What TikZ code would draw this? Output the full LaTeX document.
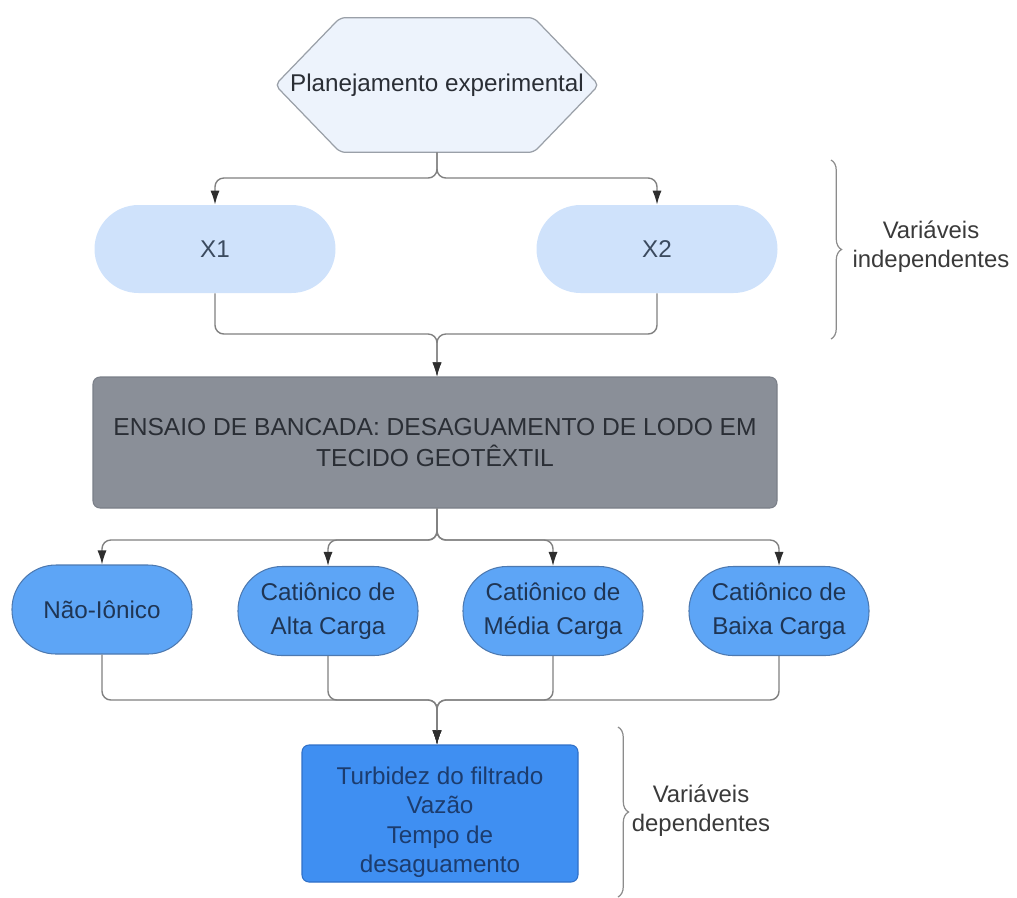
\documentclass[tikz,border=0pt]{standalone}
\usepackage{fontspec}
\setmainfont{Liberation Sans}
\usetikzlibrary{arrows.meta,decorations.pathreplacing,calc}
\definecolor{hexfill}{HTML}{EDF3FC}
\definecolor{hexline}{HTML}{9AA0A8}
\definecolor{xfill}{HTML}{CFE2FB}
\definecolor{xtext}{HTML}{3B4A5E}
\definecolor{grayfill}{HTML}{8A8F98}
\definecolor{grayline}{HTML}{7A7F88}
\definecolor{graytext}{HTML}{2A2E35}
\definecolor{bluefill}{HTML}{5DA5F6}
\definecolor{blueline}{HTML}{4D79B0}
\definecolor{bluetext}{HTML}{1F3554}
\definecolor{deepfill}{HTML}{3F8FF2}
\definecolor{deepline}{HTML}{2F70C8}
\definecolor{deeptext}{HTML}{1C3C6E}
\definecolor{connline}{HTML}{808080}
\definecolor{tipcol}{HTML}{2E2E2E}
\definecolor{bracecol}{HTML}{8C8C8C}
\definecolor{labeltext}{HTML}{3A3A3A}
\begin{document}
\begin{tikzpicture}[x=0.02cm,y=-0.02cm,
  every node/.style={font=\fontsize{13.8}{18}\selectfont, align=center, inner sep=0pt},
  hexbox/.style={minimum width=323*0.02cm, minimum height=134*0.02cm, text=graytext},
  xbox/.style={fill=xfill, rounded corners=0.88cm, minimum width=241*0.02cm, minimum height=88*0.02cm, text=xtext},
  ensbox/.style={fill=grayfill, draw=grayline, line width=0.6pt, rounded corners=4pt, minimum width=684*0.02cm, minimum height=131*0.02cm, text=graytext, font=\fontsize{14}{18}\selectfont},
  pill/.style={fill=bluefill, draw=blueline, line width=0.6pt, rounded corners=0.88cm, minimum width=180*0.02cm, minimum height=89*0.02cm, text=bluetext, font=\fontsize{13.8}{19.3}\selectfont},
  resbox/.style={fill=deepfill, draw=deepline, line width=0.6pt, rounded corners=4pt, minimum width=276*0.02cm, minimum height=137*0.02cm},
  restext/.style={text=deeptext, font=\fontsize{13.8}{16.8}\selectfont},
  conn/.style={draw=connline, line width=0.8pt, rounded corners=5pt},
  arr/.style={conn, -{Latex[length=8pt,width=5.2pt,color=tipcol]}},
  bracestyle/.style={draw=bracecol, line width=0.7pt, decorate, decoration={brace, amplitude=6pt}},
  lbl/.style={text=labeltext, font=\fontsize{13.6}{16.5}\selectfont}
]
\useasboundingbox (0,0) rectangle (1017,897);

% hexagon
\node[hexbox] (plan) at (437,85) {};
\draw[fill=hexfill, draw=hexline, line width=0.7pt, rounded corners=3pt]
  (plan.west) -- ($(plan.north west)+(65,0)$) -- ($(plan.north east)+(-65,0)$)
  -- (plan.east) -- ($(plan.south east)+(-65,0)$) -- ($(plan.south west)+(65,0)$) -- cycle;
\node[hexbox] (plantext) at (plan.center) {Planejamento experimental};

% X nodes
\node[xbox] (x1) at (215,249) {X1};
\node[xbox] (x2) at (657,249) {X2};

% main test box
\node[ensbox] (ens) at (435,442.5) {ENSAIO DE BANCADA: DESAGUAMENTO DE LODO EM\\TECIDO GEOTÊXTIL};

% polymer nodes
\node[pill] (p1) at (102,609.5) {Não-Iônico};
\node[pill] (p2) at (328,611) {Catiônico de\\Alta Carga};
\node[pill] (p3) at (553,611) {Catiônico de\\Média Carga};
\node[pill] (p4) at (779,611) {Catiônico de\\Baixa Carga};

% results box
\node[resbox] (res) at (440,813.5) {};
\node[restext] (restxt) at (440,822) {Turbidez do filtrado\\Vazão\\Tempo de\\desaguamento};

% split / merge coordinates
\coordinate (s1) at (437,178);
\coordinate (m1) at (437,334);
\coordinate (s2) at (437,540);
\coordinate (m2) at (437,700);

% connectors
\draw[arr] (plan.south -| s1) -- (s1) -| (x1.north);
\draw[arr] (plan.south -| s1) -- (s1) -| (x2.north);
\draw[arr] (x1.south) |- (m1) -- (m1 |- ens.north);
\draw[arr] (x2.south) |- (m1) -- (m1 |- ens.north);
\draw[arr] (ens.south -| s2) -- (s2) -| (p1.north);
\draw[arr] (ens.south -| s2) -- (s2) -| (p2.north);
\draw[arr] (ens.south -| s2) -- (s2) -| (p3.north);
\draw[arr] (ens.south -| s2) -- (s2) -| (p4.north);
\draw[arr] (p1.south) |- (m2) -- (m2 |- res.north);
\draw[arr] (p2.south) |- (m2) -- (m2 |- res.north);
\draw[arr] (p3.south) |- (m2) -- (m2 |- res.north);
\draw[arr] (p4.south) |- (m2) -- (m2 |- res.north);

% braces and labels
\coordinate (b1t) at (831,160);
\coordinate (b1b) at (831,339);
\draw[bracestyle] (b1t) -- (b1b);
\node[lbl] (indep) at (931,247) {Variáveis\\independentes};
\coordinate (b2t) at (618,727);
\coordinate (b2b) at (618,897);
\draw[bracestyle] (b2t) -- (b2b);
\node[lbl] (dep) at (701,811) {Variáveis\\dependentes};
\end{tikzpicture}
\end{document}
